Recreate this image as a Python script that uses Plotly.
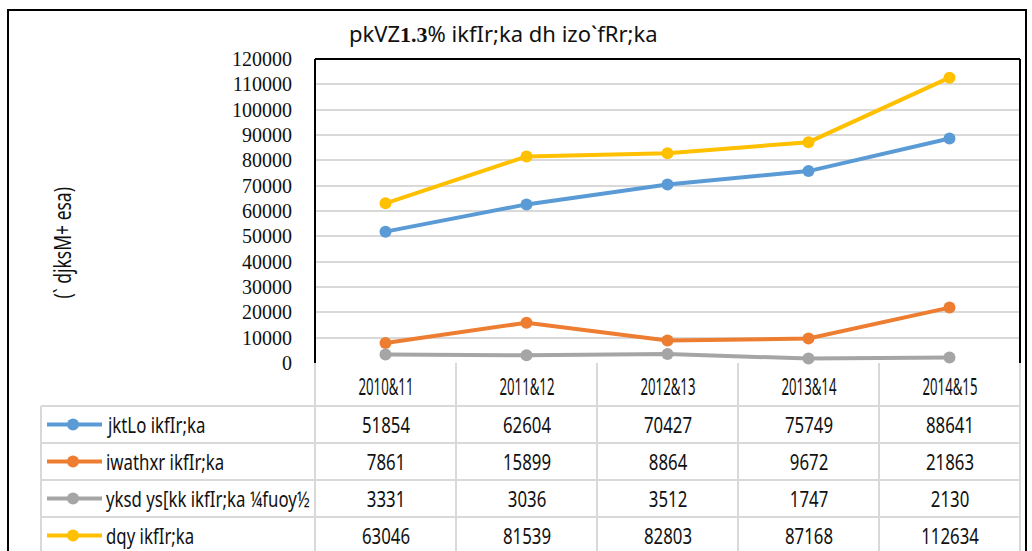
import plotly.graph_objects as go

W, H = 1032, 551

categories = ["2010&11", "2011&12", "2012&13", "2013&14", "2014&15"]
series_names = ["jktLo ikfIr;ka", "iwathxr ikfIr;ka", "yksd ys[kk ikfIr;ka ¼fuoy½", "dqy ikfIr;ka"]
revenue = [51854, 62604, 70427, 75749, 88641]
capital = [7861, 15899, 8864, 9672, 21863]
public_account = [3331, 3036, 3512, 1747, 2130]
total = [63046, 81539, 82803, 87168, 112634]
series_values = [revenue, capital, public_account, total]
colors = ["#5B9BD5", "#ED7D31", "#A5A5A5", "#FFC000"]
y_ticks = list(range(0, 120001, 10000))

title_html = ('pkVZ<b><span style="font-family:\'Liberation Serif\',serif">1.3</span></b>% '
              'ikfIr;ka dh izo`fRr;ka')
y_title = "(` djksM+ esa)"

COND = "'Noto Sans', 'DejaVu Sans', sans-serif"
SERIF = "'Liberation Serif', 'Times New Roman', serif"

def px(x):
    return x / W

def py(y):
    return 1 - y / H

PL, PR, PT, PB = 315, 1020, 59, 363
TL = 41
row_edges = [363, 406, 443, 480, 517, 554]
col_edges = [315, 456, 597, 738, 879, 1020]

fig = go.Figure()
for name, vals, c in zip(series_names, series_values, colors):
    fig.add_trace(go.Scatter(
        x=categories, y=vals, name=name, mode="lines+markers",
        line=dict(color=c, width=4), marker=dict(color=c, size=12),
        showlegend=False, cliponaxis=False))

shapes = []
grid = "#d9d9d9"
shapes.append(dict(type="rect", xref="paper", yref="paper",
                   x0=px(8), x1=px(1026), y0=py(570), y1=py(10),
                   line=dict(color="black", width=2), layer="below"))
for y in row_edges[1:]:
    shapes.append(dict(type="line", xref="paper", yref="paper",
                       x0=px(TL), x1=px(PR), y0=py(y), y1=py(y),
                       line=dict(color=grid, width=2)))
for x in col_edges:
    shapes.append(dict(type="line", xref="paper", yref="paper",
                       x0=px(x), x1=px(x), y0=py(PB), y1=py(560),
                       line=dict(color=grid, width=2)))
shapes.append(dict(type="line", xref="paper", yref="paper",
                   x0=px(TL), x1=px(TL), y0=py(406), y1=py(560),
                   line=dict(color=grid, width=2)))
for (x0, y0, x1, y1) in [(PL, PT, PL, PB), (PL, PT, PR, PT), (PR, PT, PR, PB)]:
    shapes.append(dict(type="line", xref="paper", yref="paper",
                       x0=px(x0), x1=px(x1), y0=py(y0), y1=py(y1),
                       line=dict(color="black", width=2)))

annotations = []
for i, (name, c) in enumerate(zip(series_names, colors)):
    yc = (row_edges[i + 1] + row_edges[i + 2]) / 2
    shapes.append(dict(type="line", xref="paper", yref="paper",
                       x0=px(47), x1=px(102), y0=py(yc), y1=py(yc),
                       line=dict(color=c, width=4)))
    shapes.append(dict(type="circle", xref="paper", yref="paper",
                       x0=px(67), x1=px(79), y0=py(yc + 6), y1=py(yc - 6),
                       fillcolor=c, line=dict(color=c, width=0)))
    annotations.append(dict(xref="paper", yref="paper", x=px(104), y=py(yc),
                            text=name, showarrow=False, xanchor="left", yanchor="middle",
                            align="left",
                            font=dict(family=COND, size=21, color="#111")))
    for cat, v in zip(categories, series_values[i]):
        annotations.append(dict(xref="x", yref="paper", x=cat, y=py(yc),
                                text=str(v), showarrow=False, xanchor="center", yanchor="middle",
                                font=dict(family=COND, size=21, color="#111")))
for cat in categories:
    annotations.append(dict(xref="x", yref="paper", x=cat, y=py(385),
                            text=cat, showarrow=False, xanchor="center", yanchor="middle",
                            font=dict(family=COND, size=24, color="#111")))
annotations.append(dict(xref="paper", yref="paper", x=px(503), y=py(33),
                        text=title_html, showarrow=False, xanchor="center", yanchor="middle",
                        font=dict(family=COND, size=22, color="#111")))
annotations.append(dict(xref="paper", yref="paper", x=px(62), y=py(243),
                        text=y_title, showarrow=False, textangle=-90,
                        xanchor="center", yanchor="middle",
                        font=dict(family=COND, size=23, color="#111")))

fig.update_layout(
    width=W, height=H,
    margin=dict(l=0, r=0, t=0, b=0, autoexpand=False),
    paper_bgcolor="white", plot_bgcolor="white",
    shapes=shapes, annotations=annotations,
    xaxis=dict(domain=[px(PL), px(PR)], type="category", range=[-0.5, 4.5],
               showticklabels=False, showgrid=False, zeroline=False, showline=False,
               anchor="y", automargin=False),
    yaxis=dict(domain=[py(PB), py(PT)], range=[0, 120000], tickvals=y_ticks,
               ticktext=[str(v) for v in y_ticks],
               showgrid=True, gridcolor=grid, gridwidth=2, zeroline=False,
               showline=False, ticks="", ticklabelstandoff=22, automargin=False,
               tickfont=dict(family=SERIF, size=20, color="#111"), anchor="x"),
)

post = """
document.body.style.margin='0';
document.body.style.overflow='hidden';
function squeeze(){
  document.querySelectorAll('.annotation-text').forEach(function(e){
    if (e.querySelector('tspan')) return;
    var t = e.textContent;
    var f;
    if (t.indexOf('&') >= 0) f = 0.55;
    else if (/^[0-9]+$/.test(t)) f = 0.80;
    else if (t.indexOf('djksM') >= 0) f = 0.76;
    else f = 0.80;
    var L;
    if (e.getAttribute('data-orig')) { L = parseFloat(e.getAttribute('data-orig')); }
    else { e.removeAttribute('textLength'); L = e.getComputedTextLength(); e.setAttribute('data-orig', L); }
    e.setAttribute('textLength', (L * f).toFixed(2));
    e.setAttribute('lengthAdjust', 'spacingAndGlyphs');
  });
}
squeeze();
var gd = document.getElementById('{plot_id}');
if (gd && gd.on) { gd.on('plotly_afterplot', squeeze); }
setTimeout(squeeze, 50);
"""

fig.write_html("out.html", post_script=post, config={"displayModeBar": False})
